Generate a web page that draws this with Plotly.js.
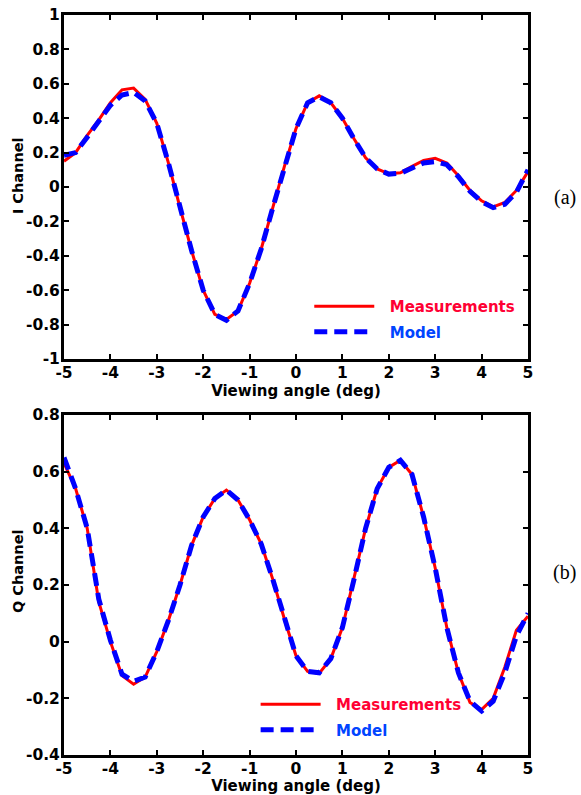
<!DOCTYPE html>
<html>
<head>
<meta charset="utf-8">
<script src="https://cdn.plot.ly/plotly-3.0.1.min.js"></script>
<style>html,body{margin:0;padding:0;background:#fff;}#chart{width:581px;height:795px;}</style>
</head>
<body>
<div id="chart"></div>
<script>
// Viewing angle (deg)
const angle = [-5,-4.75,-4.5,-4.25,-4,-3.75,-3.5,-3.25,-3,-2.75,-2.5,-2.25,-2,-1.75,-1.5,-1.25,-1,-0.75,-0.5,-0.25,0,0.25,0.5,0.75,1,1.25,1.5,1.75,2,2.25,2.5,2.75,3,3.25,3.5,3.75,4,4.25,4.5,4.75,5];

// I channel
const iMeasured = [0.15,0.20,0.30,0.39,0.49,0.565,0.575,0.51,0.37,0.14,-0.12,-0.37,-0.60,-0.74,-0.77,-0.72,-0.56,-0.36,-0.12,0.12,0.34,0.49,0.53,0.49,0.40,0.28,0.17,0.105,0.077,0.083,0.12,0.155,0.167,0.14,0.065,-0.02,-0.08,-0.115,-0.09,-0.02,0.09];
const iModel    = [0.185,0.20,0.29,0.38,0.475,0.535,0.55,0.50,0.37,0.14,-0.12,-0.37,-0.60,-0.74,-0.775,-0.72,-0.56,-0.36,-0.12,0.12,0.34,0.49,0.525,0.49,0.40,0.28,0.17,0.105,0.075,0.08,0.11,0.14,0.147,0.13,0.06,-0.025,-0.085,-0.12,-0.10,-0.03,0.10];

// Q channel
const qMeasured = [0.63,0.54,0.40,0.14,0.0,-0.12,-0.15,-0.125,-0.035,0.075,0.20,0.34,0.44,0.505,0.535,0.50,0.43,0.345,0.22,0.08,-0.05,-0.105,-0.112,-0.06,0.05,0.22,0.40,0.54,0.615,0.64,0.59,0.44,0.26,0.05,-0.11,-0.215,-0.24,-0.20,-0.09,0.04,0.09];
const qModel    = [0.65,0.54,0.40,0.15,0.005,-0.115,-0.14,-0.125,-0.035,0.075,0.20,0.34,0.44,0.505,0.535,0.50,0.43,0.345,0.22,0.08,-0.05,-0.105,-0.11,-0.06,0.05,0.22,0.40,0.54,0.615,0.64,0.59,0.44,0.26,0.05,-0.11,-0.21,-0.245,-0.21,-0.11,0.02,0.10];

const xTicks = [-5,-4,-3,-2,-1,0,1,2,3,4,5];
const iTicks = [-1,-0.8,-0.6,-0.4,-0.2,0,0.2,0.4,0.6,0.8,1];
const iTickText = ['-1','-0.8','-0.6','-0.4','-0.2','0','0.2','0.4','0.6','0.8','1'];
const qTicks = [-0.4,-0.2,0,0.2,0.4,0.6,0.8];
const qTickText = ['-0.4','-0.2','0','0.2','0.4','0.6','0.8'];

const seriesNames = ['Measurements','Model'];
const RED = '#ff0000', BLUE = '#0000ff';
const legRed = '#ff0033', legBlue = '#0044ff';
const FONT = 'DejaVu Sans, Verdana, sans-serif';
const NB = '\u00a0\u00a0';
const DASH = '13px,7px';

const traces = [
  {x: angle, y: iMeasured, xaxis:'x', yaxis:'y', mode:'lines', type:'scatter', legendgroup:'m1',
   name:'<span style="color:'+legRed+'">'+NB+seriesNames[0]+'</span>', line:{color:RED, width:3}, legend:'legend'},
  {x: angle, y: iModel, xaxis:'x', yaxis:'y', mode:'lines', type:'scatter', legendgroup:'d1',
   name:'<span style="color:'+legBlue+'">'+NB+seriesNames[1]+'</span>', line:{color:BLUE, width:5, dash:DASH}, legend:'legend'},
  {x: angle, y: qMeasured, xaxis:'x2', yaxis:'y2', mode:'lines', type:'scatter', legendgroup:'m2',
   name:'<span style="color:'+legRed+'">'+NB+seriesNames[0]+'</span>', line:{color:RED, width:3}, legend:'legend2'},
  {x: angle, y: qModel, xaxis:'x2', yaxis:'y2', mode:'lines', type:'scatter', legendgroup:'d2',
   name:'<span style="color:'+legBlue+'">'+NB+seriesNames[1]+'</span>', line:{color:BLUE, width:5, dash:DASH}, legend:'legend2'}
];

const axisCommon = {
  showline:true, linecolor:'#000', linewidth:3, mirror:'ticks',
  ticks:'inside', ticklen:5, tickwidth:2, tickcolor:'#000',
  showgrid:false, zeroline:false,
  tickfont:{family:FONT, size:15.5, color:'#000', weight:'bold'}
};
const xTitleFont = {family:FONT, size:15, color:'#000', weight:'bold'};

const layout = {
  width:581, height:795,
  paper_bgcolor:'#fff', plot_bgcolor:'#fff',
  margin:{l:64, r:53, t:15, b:40},
  showlegend:true,
  xaxis: Object.assign({}, axisCommon, {domain:[0,1], anchor:'y', range:[-5,5], tickvals:xTicks, ticktext:xTicks.map(String),
    ticklabelstandoff:-3, title:{text:'Viewing angle (deg)', font:xTitleFont, standoff:0}}),
  yaxis: Object.assign({}, axisCommon, {domain:[0.5351,1], anchor:'x', range:[-1,1], tickvals:iTicks, ticktext:iTickText, ticklabelstandoff:-2}),
  xaxis2: Object.assign({}, axisCommon, {domain:[0,1], anchor:'y2', range:[-5,5], tickvals:xTicks, ticktext:xTicks.map(String),
    ticklabelstandoff:-3, title:{text:'Viewing angle (deg)', font:xTitleFont, standoff:0}}),
  yaxis2: Object.assign({}, axisCommon, {domain:[0,0.4595], anchor:'x2', range:[-0.4,0.8], tickvals:qTicks, ticktext:qTickText, ticklabelstandoff:-2}),
  legend: {x:0.5286, y:0.6283, xanchor:'left', yanchor:'top', bgcolor:'rgba(0,0,0,0)',
    font:{family:FONT, size:15, weight:'bold'}, itemwidth:60, tracegroupgap:3},
  legend2: {x:0.413, y:0.0906, xanchor:'left', yanchor:'top', bgcolor:'rgba(0,0,0,0)',
    font:{family:FONT, size:15, weight:'bold'}, itemwidth:60, tracegroupgap:3},
  annotations: [
    {text:'I Channel', xref:'paper', yref:'paper', x:-0.099, y:0.7824, xanchor:'center', yanchor:'middle', textangle:-90, showarrow:false,
     font:{family:FONT, size:14.5, color:'#000', weight:'bold'}},
    {text:'Q Channel', xref:'paper', yref:'paper', x:-0.099, y:0.2486, xanchor:'center', yanchor:'middle', textangle:-90, showarrow:false,
     font:{family:FONT, size:14.5, color:'#000', weight:'bold'}},
    {text:'(a)', xref:'paper', yref:'paper', x:1.0797, y:0.754, xanchor:'center', yanchor:'middle', showarrow:false,
     font:{family:'Liberation Serif, Times New Roman, serif', size:20, color:'#000'}},
    {text:'(b)', xref:'paper', yref:'paper', x:1.0797, y:0.246, xanchor:'center', yanchor:'middle', showarrow:false,
     font:{family:'Liberation Serif, Times New Roman, serif', size:20, color:'#000'}}
  ]
};

Plotly.newPlot('chart', traces, layout, {displayModeBar:false, staticPlot:true});
</script>
</body>
</html>
